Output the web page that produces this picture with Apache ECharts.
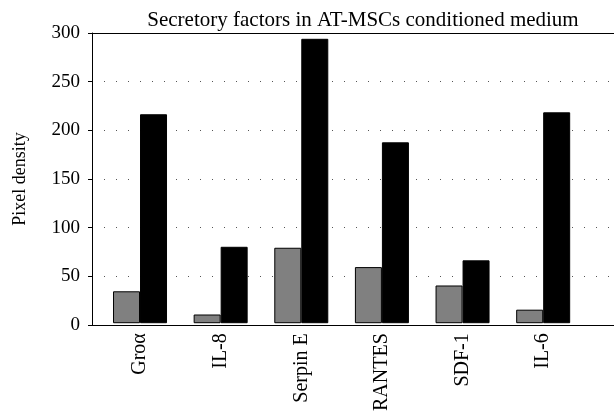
<!DOCTYPE html>
<html><head><meta charset="utf-8">
<script src="https://cdn.jsdelivr.net/npm/echarts@6/dist/echarts.min.js"></script>
<style>html,body{margin:0;padding:0;background:#fff}#c{width:614px;height:414px}</style>
</head><body><div id="c"></div>
<script>
const categories = ['Gro\u03b1', 'IL-8', 'Serpin E', 'RANTES', 'SDF-1', 'IL-6'];
const grayValues = [33, 9, 78, 58, 39, 14];
const blackValues = [216, 79, 294, 187, 65, 218];
const yTicks = [0, 50, 100, 150, 200, 250, 300];
const titleText = 'Secretory factors in AT-MSCs conditioned medium';
const yName = 'Pixel density';

const font = 'Liberation Serif';
const chart = echarts.init(document.getElementById('c'));
chart.setOption({
  animation: false,
  backgroundColor: '#fff',
  title: {
    text: titleText, left: 358, top: 5, textAlign: 'center',
    textStyle: {fontFamily: font, fontSize: 21, fontWeight: 'normal', color: '#000'}
  },
  grid: [
    {left: 92, right: 0, top: 33, bottom: 89},
    {left: 99.7, right: 30.5, top: 33, bottom: 89}
  ],
  xAxis: [
    {type: 'category', gridIndex: 0, data: categories, position: 'bottom',
     axisLine: {show: true, lineStyle: {color: '#000', width: 1}},
     axisTick: {show: false}, axisLabel: {show: false}, splitLine: {show: false}},
    {type: 'category', gridIndex: 0, data: categories, position: 'top',
     axisLine: {show: true, lineStyle: {color: '#000', width: 1}},
     axisTick: {show: false}, axisLabel: {show: false}, splitLine: {show: false}},
    {type: 'category', gridIndex: 1, data: categories, position: 'bottom',
     axisLine: {show: false}, axisTick: {show: false},
     axisLabel: {rotate: 90, margin: 10, color: '#000', fontFamily: font, fontSize: 20}}
  ],
  yAxis: [
    {type: 'value', gridIndex: 0, min: 0, max: 300, interval: 50,
     name: yName, nameLocation: 'middle', nameGap: 63,
     nameTextStyle: {fontFamily: font, fontSize: 18, color: '#000'},
     axisLine: {show: true, lineStyle: {color: '#000', width: 1}},
     axisTick: {show: true, inside: false, length: 4, lineStyle: {color: '#000'}},
     axisLabel: {margin: 12, color: '#000', fontFamily: font, fontSize: 19,
       formatter: v => yTicks.includes(v) ? String(v) : ''},
     splitLine: {show: true, lineStyle: {color: '#555', width: 1, type: [1, 11]}}},
    {type: 'value', gridIndex: 1, min: 0, max: 300, show: false, splitLine: {show: false}}
  ],
  series: [
    {type: 'bar', xAxisIndex: 2, yAxisIndex: 1, data: grayValues, barWidth: 27, barGap: '0%',
     itemStyle: {color: '#808080', borderColor: '#000', borderWidth: 1}},
    {type: 'bar', xAxisIndex: 2, yAxisIndex: 1, data: blackValues, barWidth: 27, barGap: '0%',
     itemStyle: {color: '#000', borderColor: '#000', borderWidth: 1}}
  ]
});
</script></body></html>
